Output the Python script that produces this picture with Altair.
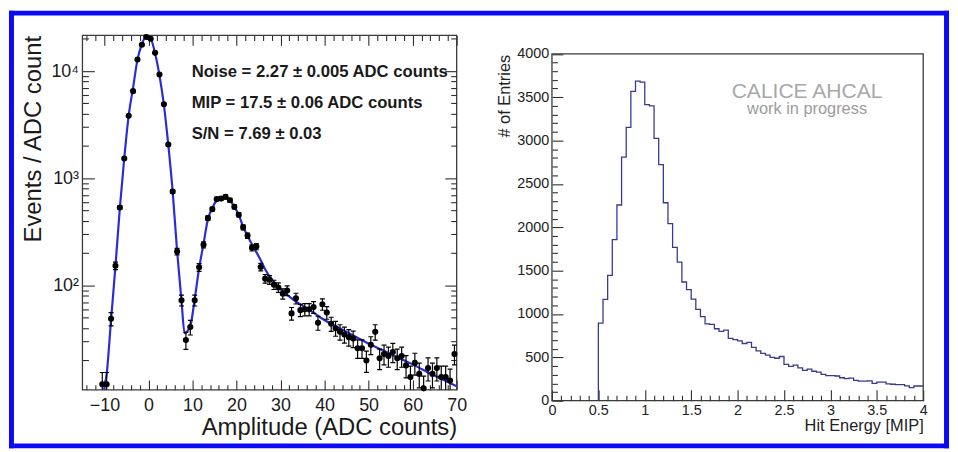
import altair as alt
import numpy as np
import pandas as pd

FONT = "Liberation Sans"
BLUE = "#0a0af5"
INK = "#1a1a1a"
FRAME = "#3a3a3a"
TICK = "#2e2e2e"

# ---------------- left panel: ADC spectrum (log scale) ----------------
amp_centres = np.arange(-10.5, 70.0, 1.0)          # 81 bin centres
adc_counts = [12, 12, 49, 153, 535, 1530, 3830, 6500, 12800, 17600,
              20800, 20000, 14800, 9300, 4910, 2065, 752, 208, 73, 31,
              41, 73, 148, 240, 425, 516, 640, 647, 671, 625,
              542, 457, 349, 292, 225, 231, 149, 116, 113, 102,
              96, 84, 90, 55, 76, 59, 60, 60, 63, 45,
              67, 56, 44, 40, 37, 35, 33, 32, 26, 26,
              20, 28, 37, 21, 23, 22, 24, 21, 22, 18,
              14, 19, 15, 11, 17, 15, 17, 14, 14, 13,
              23]

fit_x = [-10.1, -9.5, -8.5, -7.5, -6.5, -5.5, -4.5, -3.5, -2.5, -1.5, -0.8, 0.5, 1.5, 2.5,
         3.5, 4.5, 5.5, 6.5, 7.5, 8.2, 9.5, 10.5, 11.5, 12.5, 13.5, 14.5, 15.5, 16.5, 17.5,
         18.5, 19.5, 20.5, 21.5, 22.5, 23.5, 24.5, 25.5, 26.5, 27.5, 28.5, 29.5, 31.5, 33.5,
         35.5, 37.5, 39.5, 44.5, 49.5, 54.5, 59.5, 64.5, 70.0]
fit_y = [10.7, 15, 48, 152, 530, 1550, 3850, 7000, 12800, 17800, 20300, 19800, 14600, 9100,
         4850, 2050, 750, 210, 72, 36, 42, 75, 145, 245, 415, 530, 625, 665, 670,
         625, 545, 455, 355, 290, 243, 205, 172, 142, 122, 108, 97, 82, 71,
         63, 56, 49, 38, 29.5, 23.5, 18.8, 14.8, 11.5]

fit_text = ["Noise = 2.27 \u00b1 0.005 ADC counts",
            "MIP = 17.5 \u00b1 0.06 ADC counts",
            "S/N = 7.69 \u00b1 0.03"]

# ---------------- right panel: hit energy histogram ----------------
bin_edges = [round(0.5 + 0.05 * i, 2) for i in range(71)]     # 0.50 .. 4.00
entries = [894, 1168, 1446, 1857, 2257, 2809, 3152, 3568, 3686, 3674,
           3415, 3400, 3026, 2722, 2283, 2043, 1769, 1598, 1369, 1282,
           1171, 1054, 969, 886, 880, 830, 800, 815, 720, 705,
           690, 660, 672, 615, 575, 545, 525, 500, 490, 510,
           420, 395, 410, 380, 350, 365, 340, 330, 305, 290,
           290, 285, 265, 255, 260, 235, 225, 225, 230, 200,
           215, 215, 195, 190, 185, 185, 172, 150, 170, 170]

# ---------------- tables ----------------
df_pts = pd.DataFrame({"amp": amp_centres, "n": adc_counts})
df_fit = pd.DataFrame({"amp": fit_x, "n": fit_y})
step_x = [bin_edges[0]] + bin_edges
step_y = [0] + entries + [entries[-1]]
df_hist = pd.DataFrame({"e": step_x, "n": step_y, "i": list(range(len(step_x)))})

one_row = alt.Data(values=[{}])


def bar(x1, x2, y1, y2):
    return alt.Chart(one_row).mark_rect(color=BLUE).encode(
        x=alt.value(x1), x2=alt.value(x2), y=alt.value(y1), y2=alt.value(y2))


def tick_axis(orient, values, size, **kw):
    """Axis whose ticks point into the frame (offset pulls it inside by the tick length)."""
    opts = dict(orient=orient, values=values, tickSize=size, offset=-size, domain=False,
                grid=False, tickColor=TICK, tickWidth=1.1, labelOverlap=False,
                labelFlush=False, labelBound=False)
    opts.update(kw)
    if "title" not in opts:
        opts["title"] = None
    if "labelExpr" not in opts and "labels" not in opts:
        opts["labels"] = False
    return alt.Axis(**opts)


# ---------------- left panel ----------------
LW, LH = 377, 357
L_YMIN, L_YMAX = 10.66, 21500
xs_l = alt.Scale(domain=[-15, 70], nice=False, zero=False)
ys_l = alt.Scale(type="log", domain=[L_YMIN, L_YMAX], nice=False)
x_major_l = list(range(-10, 71, 10))
x_minor_l = [v for v in range(-14, 71, 2) if v % 10 != 0]
y_major_l = [100, 1000, 10000]
y_minor_l = [m * 10 ** e for e in (1, 2, 3, 4) for m in range(2, 10) if L_YMIN <= m * 10 ** e <= L_YMAX]

ax_bottom_major = tick_axis(
    "bottom", x_major_l, 10,
    labelExpr="format(datum.value, 'd')", labelFont=FONT, labelFontSize=18, labelColor=INK,
    labelPadding=6.5, labelBaseline="top",
    title="Amplitude (ADC counts)", titleFont=FONT, titleFontSize=24, titleFontWeight="normal",
    titleColor=INK, titleX=LW, titleY=48, titleAlign="right", titleBaseline="middle")
ax_left_major = tick_axis(
    "left", y_major_l, 12,
    labelExpr="datum.value === 100 ? '10\u00b2' : datum.value === 1000 ? '10\u00b3' : '10\u2074'",
    labelFont=FONT, labelFontSize=18, labelColor=INK, labelPadding=4,
    title="Events / ADC count", titleFont=FONT, titleFontSize=24, titleFontWeight="normal",
    titleColor=INK, titleX=-61.5, titleY=0, titleAngle=-90, titleAlign="right",
    titleBaseline="middle")
ax_bottom_minor = tick_axis("bottom", x_minor_l, 5)
ax_left_minor = tick_axis("left", y_minor_l, 6)
ax_top_major = tick_axis("top", x_major_l, 10)
ax_right_major = tick_axis("right", y_major_l, 12)
ax_top_minor = tick_axis("top", x_minor_l, 5)
ax_right_minor = tick_axis("right", y_minor_l, 6)

frame_l = alt.Chart(one_row).mark_rect(fill="transparent", stroke=FRAME, strokeWidth=1.3).encode(
    x=alt.XDatum(-15, scale=xs_l, axis=ax_top_minor), x2=alt.X2Datum(70),
    y=alt.YDatum(L_YMIN, scale=ys_l, axis=ax_right_minor), y2=alt.Y2Datum(L_YMAX))

fit_line = alt.Chart(df_fit).mark_line(color="#2b2bdc", strokeWidth=2.2, interpolate="monotone",
                                       clip=True).encode(
    x=alt.X("amp:Q", scale=xs_l, axis=ax_top_major),
    y=alt.Y("n:Q", scale=ys_l, axis=ax_right_major))

err_base = alt.Chart(df_pts).transform_calculate(
    lo="datum.n - sqrt(datum.n)", hi="datum.n + sqrt(datum.n)")
err_rules = err_base.mark_rule(color="black", strokeWidth=1.2, clip=True).encode(
    x=alt.X("amp:Q", scale=xs_l, axis=ax_bottom_minor),
    y=alt.Y("lo:Q", scale=ys_l, axis=ax_left_minor), y2="hi:Q")
cap_lo = err_base.mark_tick(orient="horizontal", size=5, thickness=1.2, color="black",
                            clip=True, opacity=1).encode(
    x=alt.X("amp:Q", scale=xs_l, axis=None), y=alt.Y("lo:Q", scale=ys_l, axis=None))
cap_hi = err_base.mark_tick(orient="horizontal", size=5, thickness=1.2, color="black",
                            clip=True, opacity=1).encode(
    x=alt.X("amp:Q", scale=xs_l, axis=None), y=alt.Y("hi:Q", scale=ys_l, axis=None))

points = alt.Chart(df_pts).mark_circle(size=38, color="black", opacity=1).encode(
    x=alt.X("amp:Q", scale=xs_l, axis=ax_bottom_major),
    y=alt.Y("n:Q", scale=ys_l, axis=ax_left_major))

annot = alt.Chart(one_row).mark_text(text=fit_text, align="left", baseline="middle", font=FONT,
                                      fontWeight="bold", fontSize=16.8, lineHeight=31,
                                      color=INK).encode(x=alt.value(110), y=alt.value(37))

# whole blue border lives in the left panel (layout uses flush bounds)
left = alt.layer(
    bar(-74, 873, -25, -20), bar(-74, -69, -25, 416), bar(-74, 873, 411, 416),
    bar(868, 873, -25, 416),
    frame_l, fit_line, err_rules, cap_lo, cap_hi, points, annot
).resolve_axis(x="independent", y="independent").properties(width=LW, height=LH)

# ---------------- right panel ----------------
RW, RH = 374, 368
R_YTOP = 4212          # plot area reaches higher than the 4000 frame edge
xs_r = alt.Scale(domain=[0, 4], nice=False, zero=False)
ys_r = alt.Scale(domain=[0, R_YTOP], nice=False, zero=False)
x_major_r = [round(0.5 * i, 1) for i in range(9)]
x_minor_r = [round(0.1 * i, 1) for i in range(41) if i % 5 != 0]
y_major_r = list(range(0, 4001, 500))
y_minor_r = [v for v in range(0, 4001, 100) if v % 500 != 0]

ax_bottom_r = tick_axis(
    "bottom", x_major_r, 11,
    labelExpr="format(datum.value, '~g')", labelFont=FONT, labelFontSize=14.5, labelColor="#222",
    labelPadding=2.5, labelBaseline="top",
    title="Hit Energy [MIP]", titleFont=FONT, titleFontSize=16.5, titleFontWeight="normal",
    titleColor="#222", titleX=RW, titleY=36.5, titleAlign="right", titleBaseline="middle")
ax_left_r = tick_axis(
    "left", y_major_r, 11,
    labelExpr="format(datum.value, 'd')", labelFont=FONT, labelFontSize=14.5, labelColor="#222",
    labelPadding=3.3,
    title="# of Entries", titleFont=FONT, titleFontSize=16.5, titleFontWeight="normal",
    titleColor="#222", titleX=-59, titleY=19, titleAngle=-90, titleAlign="right",
    titleBaseline="middle")
ax_bottom_r_minor = tick_axis("bottom", x_minor_r, 5.5)
ax_left_r_minor = tick_axis("left", y_minor_r, 5.5)

frame_r = alt.Chart(one_row).mark_rect(fill="transparent", stroke=FRAME, strokeWidth=1.3).encode(
    x=alt.XDatum(0, scale=xs_r, axis=ax_bottom_r_minor), x2=alt.X2Datum(4),
    y=alt.YDatum(0, scale=ys_r, axis=ax_left_r_minor), y2=alt.Y2Datum(4000))

hist = alt.Chart(df_hist).mark_line(color="#39398f", strokeWidth=1.3, interpolate="step-after",
                                    clip=True).encode(
    x=alt.X("e:Q", scale=xs_r, axis=ax_bottom_r),
    y=alt.Y("n:Q", scale=ys_r, axis=ax_left_r),
    order=alt.Order("i:Q"))

calice = alt.Chart(one_row).mark_text(text="CALICE AHCAL", font=FONT, fontSize=21.2,
                                       color="#a8a8a8", align="center",
                                       baseline="alphabetic").encode(
    x=alt.value(257), y=alt.value(63.5))
wip = alt.Chart(one_row).mark_text(text="work in progress", font=FONT, fontSize=16.5,
                                    color="#9c9c9c", align="center",
                                    baseline="alphabetic").encode(
    x=alt.value(257), y=alt.value(79))

right = alt.layer(
    frame_r, hist, calice, wip
).resolve_axis(x="independent", y="independent").properties(width=RW, height=RH)

chart = alt.hconcat(left, right, spacing=96, bounds="flush").properties(
    padding=0, background="white"
).configure_view(stroke="transparent")

chart.save("out.html", embed_options={"renderer": "svg", "actions": False})
